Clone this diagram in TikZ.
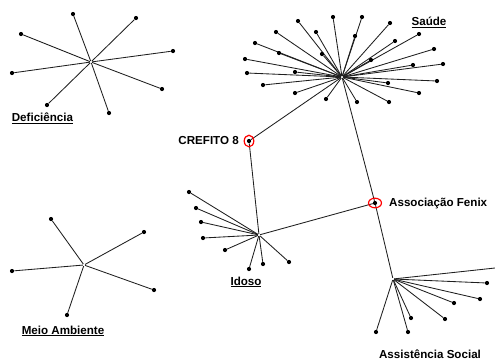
\documentclass[tikz,border=0pt]{standalone}
\usepackage{fontspec}
\setmainfont{Liberation Sans}
\begin{document}
\begin{tikzpicture}[x=1pt,y=-1pt,
  edge/.style={draw=black!88,line width=0.85pt},
  leaf/.style={circle,fill=black,inner sep=0pt,minimum size=4.2pt},
  hub/.style={circle,fill=white,inner sep=0pt,minimum size=1.8pt},
  lbl/.style={font=\fontsize{11.6}{13}\selectfont\bfseries,inner sep=0pt},
  ring/.style={draw=red,line width=1.2pt}]
\useasboundingbox (0,0) rectangle (495,360);
% hubs
\node[hub] (def) at (91,62) {};
\node[hub] (sau) at (342,77) {};
\node[hub] (ido) at (259,235) {};
\node[hub] (mei) at (84,265) {};
\node[hub] (ass) at (393,279) {};
% special nodes
\node[leaf] (cre) at (249,141) {};
\node[leaf] (fen) at (375,203) {};
\coordinate (assR) at (495,268);
% Deficiencia
\foreach \p [count=\i] in {(73,14),(136,18),(21,34),(173,51),(12,73),(162,89),(47,105),(109,113)}
  {\node[leaf] (d\i) at \p {}; \draw[edge] (def) -- (d\i);}
% Saude
\foreach \p [count=\i] in {(333,17),(362,17),(298,21),(390,23),(276,32),(316,32),(355,36),(419,34),
  (255,43),(395,41),(279,53),(322,54),(434,49),(245,59),(371,60),(443,64),(413,65),(247,73),
  (295,72),(437,81),(388,83),(263,85),(419,93),(295,93),(326,99),(357,102),(389,102)}
  {\node[leaf] (s\i) at \p {}; \draw[edge] (sau) -- (s\i);}
% Idoso
\foreach \p [count=\i] in {(189,192),(196,208),(201,222),(203,238),(225,250),(249,269),(263,264),(289,262)}
  {\node[leaf] (i\i) at \p {}; \draw[edge] (ido) -- (i\i);}
% Meio Ambiente
\foreach \p [count=\i] in {(51,219),(144,232),(12,271),(154,290),(67,315)}
  {\node[leaf] (m\i) at \p {}; \draw[edge] (mei) -- (m\i);}
% Assistencia Social
\foreach \p [count=\i] in {(487,283),(480,299),(454,303),(445,319),(411,318),(408,332),(376,332)}
  {\node[leaf] (a\i) at \p {}; \draw[edge] (ass) -- (a\i);}
\draw[edge] (ass) -- (assR);
% links between groups
\draw[edge] (sau) -- (cre);
\draw[edge] (cre) -- (ido);
\draw[edge] (sau) -- (fen);
\draw[edge] (fen) -- (ass);
\draw[edge] (ido) -- (fen);
% redraw hubs on top
\foreach \h in {def,sau,ido,mei,ass} {\node[hub] at (\h) {};}
% red rings
\draw[ring] (cre) ellipse (4.8pt and 5.8pt);
\draw[ring] (fen) ellipse (6.5pt and 4.8pt);
% labels
\node[lbl] (ldef) at (42.5,118) {\underline{Deficiência}};
\node[lbl] (lsau) at (429,22) {\underline{Saúde}};
\node[lbl,anchor=east] (lcre) at (239,141) {CREFITO 8};
\node[lbl] (lido) at (246,282) {\underline{Idoso}};
\node[lbl,anchor=west] (lfen) at (389,203) {Associação Fenix};
\node[lbl] (lmei) at (63,331) {\underline{Meio Ambiente}};
\node[lbl,anchor=base] (lass) at (430,358) {Assistência Social};
\end{tikzpicture}
\end{document}
